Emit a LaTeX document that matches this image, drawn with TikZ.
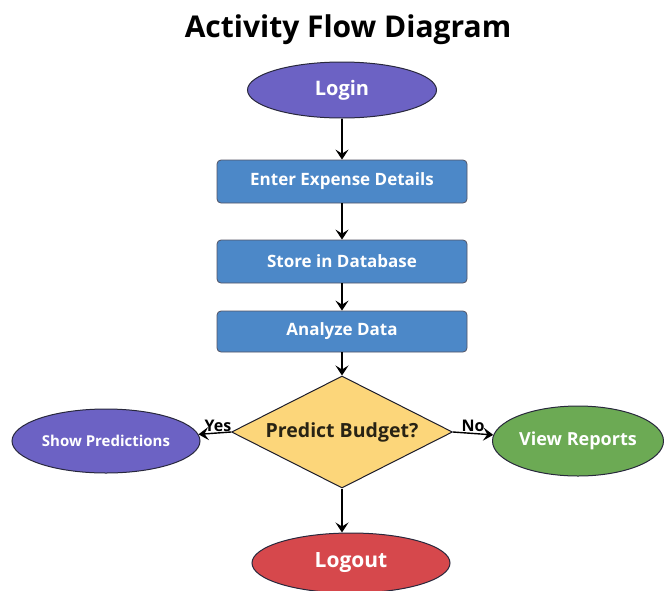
\documentclass[tikz,border=0pt]{standalone}
\usepackage{fontspec}
\setmainfont{Open Sans}
\usetikzlibrary{shapes.geometric,arrows.meta}
\definecolor{cpurple}{RGB}{108,98,196}
\definecolor{cblue}{RGB}{76,136,200}
\definecolor{cyellow}{RGB}{252,214,122}
\definecolor{cgreen}{RGB}{108,170,84}
\definecolor{cred}{RGB}{214,72,76}
\definecolor{cedge}{RGB}{40,40,60}
\definecolor{ctext}{RGB}{40,35,20}
\tikzset{
  ell/.style={ellipse, draw=cedge, line width=1pt, text=white, font=\bfseries\fontsize{20}{24}\selectfont, inner sep=0pt},
  stepbox/.style={rectangle, rounded corners=4pt, draw=cedge!80, line width=0.8pt, fill=cblue, text=white,
    minimum width=250pt, minimum height=43pt, font=\bfseries\fontsize{17}{20}\selectfont},
  dec/.style={diamond, draw=cedge!70!black, line width=1pt, fill=cyellow, text=ctext, minimum width=221pt, minimum height=112pt,
    aspect=2, inner sep=0pt, font=\bfseries\fontsize{19.5}{23}\selectfont},
  conn/.style={-{Stealth[length=10pt,width=13pt,inset=4pt]}, line width=1.4pt, black},
  lab/.style={font=\bfseries\fontsize{16}{18}\selectfont, inner sep=1pt}
}
\begin{document}
\begin{tikzpicture}[x=1pt,y=-1pt]
\useasboundingbox (0,0) rectangle (664,590);
\node[font=\bfseries\fontsize{30}{36}\selectfont] (title) at (348,30) {Activity Flow Diagram};
\node[ell, fill=cpurple, minimum width=189pt, minimum height=56pt] (login) at (342,90) {Login};
\node[stepbox] (enter) at (342,181.5) {Enter Expense Details};
\node[stepbox] (store) at (342,261.5) {Store in Database};
\node[stepbox, minimum height=41pt] (analyze) at (342,331.5) {Analyze Data};
\node[dec] (pred) at (342,432) {Predict Budget?};
\node[ell, fill=cpurple, minimum width=188pt, minimum height=64pt, font=\bfseries\fontsize{15}{17}\selectfont] (show) at (106,441) {Show Predictions};
\node[ell, fill=cgreen, minimum width=171pt, minimum height=70pt, font=\bfseries\fontsize{18}{21}\selectfont] (view) at (578,441) {View Reports};
\node[ell, fill=cred, minimum width=198pt, minimum height=60pt, font=\bfseries\fontsize{21}{25}\selectfont] (logout) at (351,563) {Logout};
\draw[conn] (login) -- (enter);
\draw[conn] (enter) -- (store);
\draw[conn] (store) -- (analyze);
\draw[conn] (analyze) -- (pred);
\draw[conn] (pred.west) -- node[lab, above, pos=0.4] (yes) {Yes} (show);
\draw[conn] (pred.east) -- node[lab, above, pos=0.5] (no) {No} (view);
\draw[conn] (pred) -- (logout.north -| pred.south);
\end{tikzpicture}
\end{document}
